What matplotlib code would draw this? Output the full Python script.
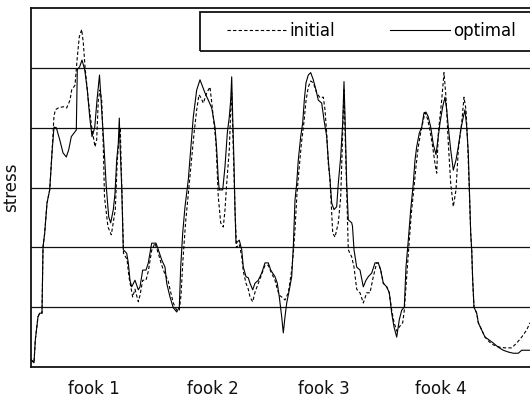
import numpy as np
import matplotlib
matplotlib.use('Agg')
import matplotlib.pyplot as plt
from matplotlib.patches import Rectangle

# sample position along the run, stress value
opt_x = [31.3, 34, 35.3, 38, 39.7, 42, 43, 44.7, 47, 49.7, 52, 54, 56.3, 59.7, 63, 66.3, 68.7, 71.3, 74, 76.3,
         77.3, 79.7, 82, 84.7, 87.3, 89.7, 92, 94.7, 97, 99.5, 101.3, 104, 106.3, 108.7, 110.7, 113.3, 115, 116.7,
         118.3, 119.3, 120, 121.7, 123.3, 126.7, 128.3, 130, 131.7, 135, 138.3, 140, 142.7, 146, 148.3, 151.7,
         156, 158.3, 161.7, 165, 166.7, 170, 173.3, 176.7, 179.3, 180.7, 182.7, 185, 188.3, 190.7, 193.3, 196.7,
         200, 202.7, 205, 208.3, 211.7, 215, 216.7, 218.3, 219.3, 222.7, 225, 227.3, 229.3, 230.7, 231.7, 232.7,
         234, 235, 236, 239.3, 241.7, 243.3, 246, 248.3, 250, 252.7, 255, 258.3, 261.7, 265, 268.3, 270.7, 275,
         277.3, 279.3, 281.7, 283.3, 285, 286.7, 289.3, 291.7, 293.3, 295, 296.7, 298.3, 300.7, 302.7, 304.3,
         306, 308.3, 310.7, 313.3, 316, 318.3, 321.7, 324, 326.7, 328.3, 330, 331.7, 334, 336.7, 338.3, 340.7,
         342.7, 344, 345, 346.7, 348.3, 351.7, 352.5, 354, 356.7, 360, 363.3, 366, 368.3, 371.7, 375, 378.3,
         380.7, 383.3, 386.7, 389.3, 391.7, 394, 396.7, 399.3, 401.7, 404.3, 406, 408.3, 410.7, 413.3, 415,
         416.7, 419.3, 421.7, 424, 426, 428.3, 430.7, 433.3, 436, 438.3, 440, 442.7, 445, 446.7, 448.3, 450.7,
         453.3, 456, 458.3, 460.7, 463.3, 465, 466.7, 468.3, 469.3, 470.7, 471.7, 472.7, 474, 476.7, 478.3,
         481.7, 485, 489.3, 493.3, 498.3, 503.3, 508.3, 513.3, 518.3, 521.7, 530]
opt_y = [0.12, 0.07, 0.45, 0.84, 0.9, 0.9, 2.0, 2.24, 2.74, 2.96, 3.58, 4.01, 4.0, 3.8, 3.58, 3.51, 3.63, 3.85, 3.91, 3.96,
         4.97, 5.02, 5.13, 4.97, 4.63, 4.18, 3.85, 4.0, 4.46, 4.88, 4.41, 3.68, 3.01, 2.51, 2.41, 2.63, 2.9, 3.46,
         3.74, 4.16, 3.74, 3.0, 1.96, 1.9, 1.74, 1.45, 1.34, 1.45, 1.29, 1.34, 1.62, 1.62, 1.74, 2.07,
         2.07, 1.96, 1.79, 1.67, 1.4, 1.17, 0.99, 0.92, 1.0, 1.67, 2.24, 2.68, 3.13, 3.63, 4.18, 4.63,
         4.8, 4.68, 4.58, 4.46, 4.33, 4.01, 3.63, 3.13, 2.96, 2.96, 3.35, 3.91, 4.18, 4.46, 4.85, 4.18,
         3.41, 2.63, 2.07, 2.12, 1.96, 1.67, 1.51, 1.49, 1.4, 1.29, 1.4, 1.45, 1.57, 1.74, 1.74, 1.62, 1.51,
         1.4, 1.17, 0.84, 0.57, 0.84, 1.07, 1.29, 1.51, 2.01, 2.79, 3.07, 3.46, 3.85, 4.08, 4.46,
         4.75, 4.88, 4.92, 4.8, 4.63, 4.46, 4.41, 4.13, 3.85, 3.46, 3.13, 2.74, 2.63, 2.68, 3.07, 3.51,
         4.08, 4.77, 4.18, 3.07, 2.46, 2.41, 2.35, 1.96, 1.67, 1.62, 1.34, 1.45, 1.51, 1.57, 1.74, 1.74,
         1.62, 1.4, 1.34, 1.24, 0.9, 0.67, 0.5, 0.79, 0.95, 1.0, 1.67, 2.12, 2.63, 3.07, 3.46,
         3.68, 3.91, 4.01, 4.25, 4.26, 4.18, 4.01, 3.72, 3.55, 3.85, 4.08, 4.35, 4.51, 4.3, 4.01, 3.63,
         3.29, 3.46, 3.68, 3.96, 4.18, 4.3, 4.01, 3.58, 3.01, 2.24, 1.96, 1.45, 1.0, 0.9, 0.74,
         0.62, 0.5, 0.45, 0.4, 0.33, 0.28, 0.25, 0.23, 0.23, 0.28, 0.28]

init_x = [31.3, 34, 35.3, 38, 39.7, 42, 43, 44.7, 47, 49.7, 52, 54, 55.5, 58.3, 63.3, 66.7, 70, 71.7, 75, 77.3,
          79.3, 81.7, 83.3, 85, 88.3, 91.7, 95, 96.7, 98.3, 100, 101.7, 103.3, 104.5, 108, 111.3, 115.3, 117.3,
          119.3, 120.3, 121, 122, 123.5, 127, 129, 132.7, 135, 138.3, 140, 142.7, 146, 148.3, 151.7, 155, 158.3,
          161.7, 165, 168, 170, 173.3, 176.7, 179.3, 181, 183, 185.5, 188.3, 191, 194, 196.7, 199, 201, 203.3,
          206.7, 210, 213.3, 216, 218.3, 220.7, 223.3, 225, 226.7, 229.3, 230.7, 231.7, 233.3, 235, 236.5, 239.3,
          241.7, 243.3, 246, 248.3, 250, 252.7, 255, 258.3, 261.7, 265, 268.3, 270.7, 275, 277.3, 279.3, 281.7,
          285, 288.3, 291.7, 293.3, 295, 297, 299, 301.5, 304, 306, 308.3, 310.7, 313.3, 316.7, 320, 323.3, 325,
          326.7, 328.3, 330, 332.7, 335, 338.3, 340.7, 342.7, 344, 346, 348.3, 351.7, 354, 356.7, 360, 363.3,
          366.7, 370, 373.3, 376.7, 378.3, 380.7, 383.3, 386.7, 389.3, 391.7, 394, 396.7, 399.3, 402.7, 404.3,
          406.7, 409.3, 411.5, 414, 416, 418, 420.5, 423, 425, 427.5, 430, 432.5, 435, 436.7, 438.3, 441.7, 444,
          446, 448.3, 450.7, 453.3, 456, 458.3, 461.7, 464, 466, 467.5, 469, 470.7, 471.7, 472.7, 474, 476.7,
          478.3, 481.7, 485, 489.3, 493.3, 500, 505, 511.7, 516.7, 521.7, 526.7, 530]
init_y = [0.12, 0.07, 0.45, 0.84, 0.9, 0.9, 2.0, 2.24, 2.74, 2.96, 3.58, 4.2, 4.3, 4.33, 4.35, 4.33, 4.46, 4.63, 4.71, 5.18,
          5.52, 5.64, 5.42, 5.02, 4.46, 4.01, 3.68, 3.8, 4.46, 4.63, 4.46, 3.68, 2.84, 2.34, 2.21, 2.63, 3.46,
          3.85, 4.0, 3.5, 2.9, 1.9, 1.8, 1.5, 1.17, 1.3, 1.09, 1.2, 1.45, 1.45, 1.6, 1.95, 2.07, 1.9,
          1.7, 1.55, 1.45, 1.3, 1.07, 0.95, 0.95, 1.2, 1.8, 2.4, 2.9, 3.4, 3.9, 4.3, 4.55, 4.5, 4.41,
          4.58, 4.68, 4.18, 3.74, 2.84, 2.41, 2.34, 2.63, 3.07, 3.63, 4.3, 4.58, 3.63, 2.63, 2.0, 2.05,
          1.85, 1.6, 1.4, 1.3, 1.17, 1.09, 1.25, 1.4, 1.55, 1.7, 1.7, 1.6, 1.45, 1.3, 1.2, 1.17,
          1.12, 1.24, 1.62, 1.9, 2.3, 2.9, 3.3, 3.75, 4.1, 4.45, 4.68, 4.78, 4.75, 4.58, 4.5, 4.51, 4.3,
          3.9, 3.4, 3.13, 2.24, 2.17, 2.41, 2.84, 3.91, 4.63, 3.35, 1.96, 1.84, 1.67, 1.3, 1.24, 1.07,
          1.24, 1.24, 1.51, 1.74, 1.74, 1.62, 1.4, 1.34, 1.24, 0.95, 0.75, 0.6, 0.67, 0.74, 0.95,
          1.51, 2.12, 2.6, 3.0, 3.35, 3.65, 3.9, 4.1, 4.25, 4.15, 3.95, 3.7, 3.4, 3.24, 3.91, 4.46, 4.92,
          4.51, 3.74, 3.07, 2.68, 2.96, 3.63, 4.08, 4.51, 4.3, 3.8, 3.1, 2.24, 1.96, 1.45, 1.0, 0.9,
          0.74, 0.62, 0.5, 0.42, 0.37, 0.33, 0.32, 0.32, 0.4, 0.5, 0.62, 0.74]

tick_pos = [94, 213, 324, 441]
tick_labels = ['fook 1', 'fook 2', 'fook 3', 'fook 4']
grid_levels = [1, 2, 3, 4, 5]

plt.rcParams['font.family'] = 'DejaVu Sans'

fig = plt.figure(figsize=(5.3, 3.98), dpi=100)
ax = fig.add_axes([31 / 530, 31 / 398, 1 - 31 / 530, 359 / 398])

for g in grid_levels:
    ax.axhline(g, color='#111111', lw=0.9, zorder=1)

l_init, = ax.plot(init_x, init_y, color='black', lw=0.8, linestyle=(0, (3, 2)), zorder=2, label='initial')
l_opt, = ax.plot(opt_x, opt_y, color='black', lw=0.8, zorder=3, label='optimal')

ax.set_xlim(31, 530)
ax.set_ylim(0, 6)
ax.set_xticks(tick_pos)
ax.set_xticklabels(tick_labels, fontsize=12, color='#111111')
ax.set_yticks([])
ax.tick_params(axis='x', length=0, pad=9)
ax.set_ylabel('stress', fontsize=12, color='#111111', labelpad=8)

for s in ['left', 'bottom', 'top']:
    ax.spines[s].set_linewidth(1.3)
    ax.spines[s].set_color('#111111')
ax.spines['right'].set_visible(False)

# legend box
fig.patches.append(Rectangle((199.5 / 530, 1 - 50.7 / 398), 0.7, 39 / 398, transform=fig.transFigure,
                             fill=False, edgecolor='#111111', lw=1.3))
fig.legend(handles=[l_init, l_opt], ncol=2, frameon=False, loc='center left',
           bbox_to_anchor=(227 / 530, 1 - 31 / 398), borderpad=0, borderaxespad=0,
           handlelength=3.6, handletextpad=0.15, columnspacing=3.3, fontsize=12)

fig.savefig('out.png', dpi=100)
